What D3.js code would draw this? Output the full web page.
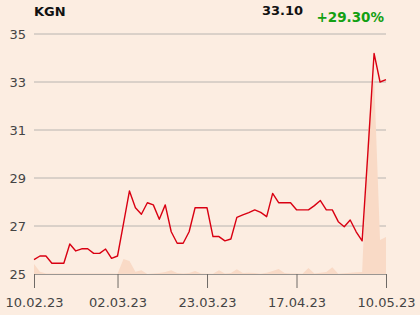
<!DOCTYPE html>
<html>
<head>
<meta charset="utf-8">
<script src="https://cdn.jsdelivr.net/npm/d3@7"></script>
<style>
  html, body { margin: 0; padding: 0; background: #fcede1; }
  svg { display: block; font-family: "DejaVu Sans", sans-serif; }
</style>
</head>
<body>
<svg id="chart" width="420" height="315"></svg>
<script>
var ticker = 'KGN';
var lastPrice = '33.10';
var change = '+29.30%';

// closing prices, one per trading day
var prices = [
    25.6, 25.75, 25.75, 25.45, 25.45, 25.45, 26.25, 25.96, 26.05, 26.05,
    25.86, 25.86, 26.04, 25.65, 25.75, 27.1, 28.46, 27.76, 27.49, 27.97,
    27.88, 27.28, 27.88, 26.76, 26.28, 26.28, 26.76, 27.76, 27.76, 27.76,
    26.56, 26.56, 26.38, 26.46, 27.36, 27.46, 27.56, 27.67, 27.57, 27.39,
    28.36, 27.97, 27.97, 27.97, 27.68, 27.67, 27.67, 27.85, 28.06, 27.67,
    27.67, 27.18, 26.97, 27.25, 26.76, 26.38, 30.2, 34.19, 33.0, 33.1
];
// traded volume (thousands)
var volumes = [
    100, 23, 5, 5, 5, 5, 5, 5, 5, 5,
    5, 5, 5, 5, 3, 150, 130, 23, 37, 0,
    5, 10, 20, 37, 10, 5, 10, 30, 5, 2,
    3, 37, 5, 10, 47, 10, 13, 10, 2, 13,
    30, 50, 10, 5, 5, 2, 60, 5, 13, 20,
    67, 2, 7, 13, 17, 20, 1440, 1970, 340, 370
];
var tickIndex = [0, 14, 29, 44, 59];
var tickLabels = ['10.02.23', '02.03.23', '23.03.23', '17.04.23', '10.05.23'];
var yTicks = [25, 27, 29, 31, 33, 35];

var svg = d3.select('#chart'),
    plotLeft = 34, plotRight = 386, plotTop = 34, plotBottom = 274;

var x = d3.scaleLinear()
    .domain([0, prices.length - 1])
    .range([plotLeft, plotRight]);

var y = d3.scaleLinear()
    .domain([25, 35])
    .range([plotBottom, plotTop]);

var yVol = d3.scaleLinear()
    .domain([0, d3.max(volumes)])
    .range([plotBottom, 77]);

// grid
svg.append('g')
    .selectAll('line')
    .data(yTicks.slice(1))
    .enter().append('line')
    .attr('x1', plotLeft).attr('x2', plotRight)
    .attr('y1', function (d) { return y(d); })
    .attr('y2', function (d) { return y(d); })
    .style('stroke', '#b8b4b0')
    .style('stroke-width', 1);

// volume area
var area = d3.area()
    .x(function (d, i) { return x(i); })
    .y0(plotBottom)
    .y1(function (d) { return yVol(d); });

svg.append('path')
    .datum(volumes)
    .attr('d', area)
    .style('fill', '#f9dac6');

// y axis labels
var yAxis = d3.axisLeft(y)
    .tickValues(yTicks)
    .tickSize(0)
    .tickPadding(8);
var yg = svg.append('g')
    .attr('transform', 'translate(' + plotLeft + ',0)')
    .call(yAxis);
yg.select('.domain').remove();
yg.selectAll('text')
    .style('font-size', '13px')
    .style('fill', '#444')
    .style('font-family', '"DejaVu Sans", sans-serif');

// x axis
var xAxis = d3.axisBottom(x)
    .tickValues(tickIndex)
    .tickFormat(function (d, i) { return tickLabels[i]; })
    .tickSize(14)
    .tickPadding(10)
    .tickSizeOuter(0);
var xg = svg.append('g')
    .attr('transform', 'translate(0,' + plotBottom + ')')
    .call(xAxis);
xg.select('.domain').style('stroke', '#9a9692');
xg.selectAll('.tick line').style('stroke', '#6e6a66');
xg.selectAll('text')
    .style('font-size', '13px')
    .style('fill', '#444')
    .style('font-family', '"DejaVu Sans", sans-serif');

// price line
var line = d3.line()
    .x(function (d, i) { return x(i); })
    .y(function (d) { return y(d); });

svg.append('path')
    .datum(prices)
    .attr('d', line)
    .style('fill', 'none')
    .style('stroke', '#d90012')
    .style('stroke-width', 1.4)
    .style('stroke-linejoin', 'round');

// header
svg.append('text')
    .attr('x', plotLeft).attr('y', 16)
    .text(ticker)
    .style('font-size', '13px').style('font-weight', 'bold').style('fill', '#111');
svg.append('text')
    .attr('x', 303).attr('y', 15)
    .attr('text-anchor', 'end')
    .text(lastPrice)
    .style('font-size', '13px').style('font-weight', 'bold').style('fill', '#111');
svg.append('text')
    .attr('x', 384).attr('y', 22)
    .attr('text-anchor', 'end')
    .text(change)
    .style('font-size', '13.5px').style('font-weight', 'bold').style('fill', '#13a013');
</script>
</body>
</html>
